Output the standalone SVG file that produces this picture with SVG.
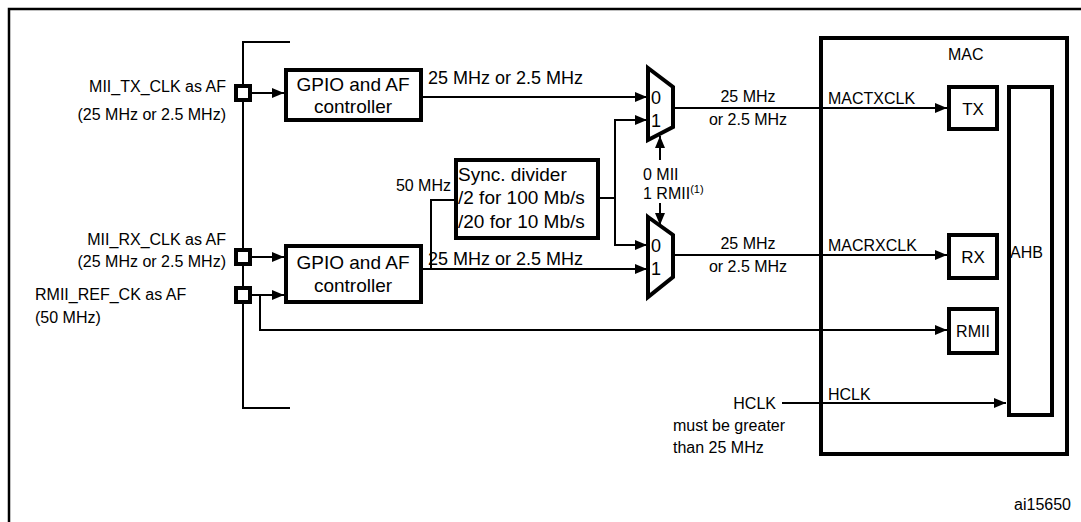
<svg xmlns="http://www.w3.org/2000/svg" width="1081" height="522" viewBox="0 0 1081 522">
<style>
text{font-family:"Liberation Sans",Arial,sans-serif;font-size:16px;fill:#000}
.b{fill:#fff;stroke:#000;stroke-width:4}
.l{fill:none;stroke:#000;stroke-width:2}
.a{fill:none;stroke:#000;stroke-width:2;marker-end:url(#ar)}
.e{text-anchor:end}.m{text-anchor:middle}
.g{font-size:19px}
.f{font-size:18px}
.s{font-size:17px}
</style>
<defs><marker id="ar" markerWidth="12" markerHeight="10" refX="12" refY="5" orient="auto" markerUnits="userSpaceOnUse"><path d="M0,0L12,5L0,10z" fill="#000"/></marker></defs>
<rect width="1081" height="522" fill="#fff"/>
<path d="M1081,9H9V522" fill="none" stroke="#000" stroke-width="2.5"/>
<g id="mac"><rect class="b" x="821" y="38" width="246" height="416" style="fill:none"/><text x="948" y="60">MAC</text></g>
<g id="connectors">
<path class="l" d="M290,42H243V408H290"/>
<path class="a" d="M250,93H284"/>
<path class="a" d="M250,257H284"/>
<path class="a" d="M250,295H284"/>
<path class="a" d="M421,97H647"/>
<path class="a" d="M421,269H647"/>
<path class="l" d="M431,269V200H455"/>
<path class="l" d="M598,198H615"/>
<path class="a" d="M615,198V120H647"/>
<path class="a" d="M615,198V245H647"/>
<path class="a" d="M260,295V330H947"/>
<path class="a" d="M673,108H947"/>
<path class="a" d="M673,255H947"/>
<path class="a" d="M660,160V136"/>
<path class="a" d="M660,203V225"/>
<path class="a" d="M782,403H1006"/>
</g>
<g id="pin-tx"><rect class="b" x="236" y="86" width="14" height="14" stroke-width="3"/></g>
<g id="pin-rx"><rect class="b" x="236" y="250" width="14" height="14" stroke-width="3"/></g>
<g id="pin-rmii"><rect class="b" x="236" y="288" width="14" height="14" stroke-width="3"/></g>
<g id="gpio1"><rect class="b" x="286" y="70" width="135" height="50"/><text class="m g" x="353" y="91">GPIO and AF</text><text class="m g" x="353" y="113">controller</text></g>
<g id="gpio2"><rect class="b" x="286" y="246" width="135" height="56"/><text class="m g" x="353" y="269">GPIO and AF</text><text class="m g" x="353" y="292">controller</text></g>
<g id="divider"><rect class="b" x="456" y="160" width="142" height="78"/><text class="g" x="458" y="181">Sync. divider</text><text class="g" x="458" y="204">/2 for 100 Mb/s</text><text class="g" x="458" y="228">/20 for 10 Mb/s</text></g>
<g id="mux1"><path class="b" d="M648,68L673,87V127L648,140Z" stroke-width="3.5"/><text class="f" x="651" y="104">0</text><text class="f" x="651" y="127">1</text></g>
<g id="mux2"><path class="b" d="M648,217L673,235V277L648,297Z" stroke-width="3.5"/><text class="f" x="651" y="252">0</text><text class="f" x="651" y="275">1</text></g>
<g id="tx"><rect class="b" x="949" y="87" width="48" height="42"/><text class="m s" x="973" y="115">TX</text></g>
<g id="rx"><rect class="b" x="949" y="235" width="48" height="43"/><text class="m s" x="973" y="263">RX</text></g>
<g id="rmii"><rect class="b" x="949" y="309" width="48" height="44"/><text class="m" x="973" y="337">RMII</text></g>
<g id="ahb"><rect class="b" x="1009" y="87" width="43" height="328"/><text x="1010" y="258">AHB</text></g>
<g id="labels">
<text class="e" x="226" y="92">MII_TX_CLK as AF</text>
<text class="e" x="226" y="120">(25 MHz or 2.5 MHz)</text>
<text class="e" x="226" y="245">MII_RX_CLK as AF</text>
<text class="e" x="226" y="267">(25 MHz or 2.5 MHz)</text>
<text x="35" y="300">RMII_REF_CK as AF</text>
<text x="35" y="323">(50 MHz)</text>
<text class="f" x="428" y="84">25 MHz or 2.5 MHz</text>
<text class="f" x="428" y="265">25 MHz or 2.5 MHz</text>
<text class="e" x="451" y="191">50 MHz</text>
<text class="m" x="748" y="102">25 MHz</text>
<text class="m" x="748" y="125">or 2.5 MHz</text>
<text class="m" x="748" y="249">25 MHz</text>
<text class="m" x="748" y="272">or 2.5 MHz</text>
<text x="643" y="180">0 MII</text>
<text x="643" y="199">1 RMII<tspan font-size="11" dy="-6">(1)</tspan></text>
<text x="828" y="104">MACTXCLK</text>
<text x="828" y="251">MACRXCLK</text>
<text x="828" y="400">HCLK</text>
<text class="e" x="776" y="409">HCLK</text>
<text x="673" y="431">must be greater</text>
<text x="673" y="453">than 25 MHz</text>
<text class="e" x="1071" y="510">ai15650</text>
</g>
</svg>
